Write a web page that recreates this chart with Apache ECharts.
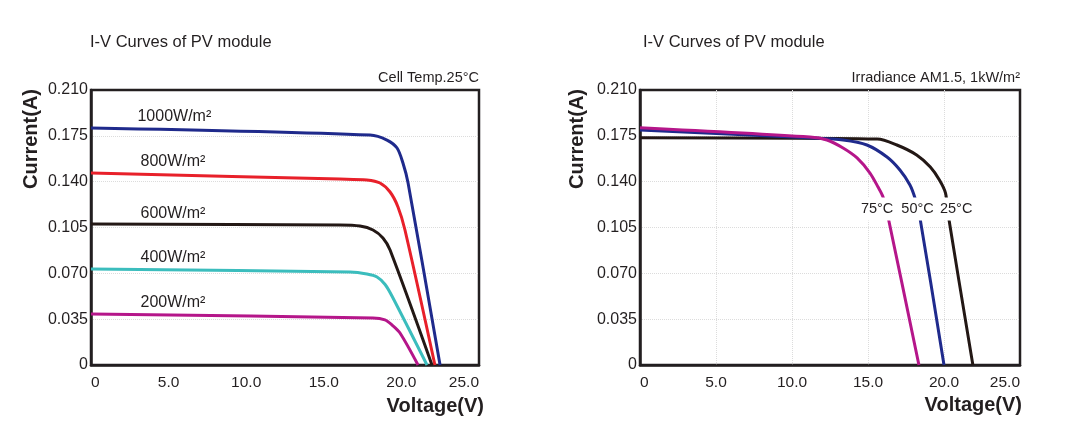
<!DOCTYPE html>
<html>
<head>
<meta charset="utf-8">
<title>I-V Curves of PV module</title>
<script src="https://cdn.jsdelivr.net/npm/echarts@6/dist/echarts.min.js"></script>
<style>
  html, body { margin: 0; padding: 0; background: #fff; }
  #chart { width: 1072px; height: 437px; }
</style>
</head>
<body>
<div id="chart"></div>
<script>
// axis ticks
var voltTicks = [0, 5, 10, 15, 20, 25];
var currTicks = [0, 0.035, 0.07, 0.105, 0.14, 0.175, 0.21];

// left chart: irradiance curves at cell temp 25°C  (voltage V, current A)
var irrNames = ['1000W/m²', '800W/m²', '600W/m²', '400W/m²', '200W/m²'];
var v1000 = [0, 17.98, 19.07, 19.72, 20.10, 20.43, 22.49];
var i1000 = [0.181, 0.1756, 0.1718, 0.1657, 0.1542, 0.139, 0];
var v800 = [0, 16.04, 17.78, 18.62, 19.27, 19.78, 20.23, 22.16];
var i800 = [0.1466, 0.142, 0.1413, 0.139, 0.1321, 0.1207, 0.1031, 0];
var v600 = [0, 16.04, 17.33, 18.17, 18.81, 19.27, 21.97];
var i600 = [0.1077, 0.1069, 0.1061, 0.1031, 0.097, 0.0878, 0];
var v400 = [0, 16.69, 17.78, 18.43, 18.95, 19.4, 21.65];
var i400 = [0.0733, 0.071, 0.0695, 0.0672, 0.0615, 0.0525, 0];
var v200 = [0, 18.17, 18.94, 19.4, 19.91, 21.07];
var i200 = [0.0389, 0.0359, 0.0344, 0.0305, 0.0244, 0];
// where the irradiance names sit (voltage, current)
var irrTagAt = [[2.96, 0.190], [3.16, 0.155], [3.16, 0.116], [3.16, 0.0817], [3.16, 0.0473]];

// right chart: temperature curves at AM1.5, 1kW/m²
var tempNames = ['25°C', '50°C', '75°C'];
var v25 = [0, 15.6, 16.9, 18.2, 19.1, 19.7, 20.1, 20.3, 21.9];
var i25 = [0.1736, 0.1726, 0.168, 0.1604, 0.1512, 0.1413, 0.1313, 0.113, 0];
var v50 = [0, 11.4, 13.36, 14.93, 16.25, 17.1, 17.76, 18.09, 18.42, 20.0];
var i50 = [0.1794, 0.1733, 0.1718, 0.168, 0.1588, 0.1489, 0.1375, 0.1275, 0.1122, 0];
var v75 = [0, 11.18, 12.3, 13.36, 14.28, 15.13, 15.66, 15.99, 16.32, 18.35];
var i75 = [0.1812, 0.1741, 0.1718, 0.1657, 0.1581, 0.1466, 0.1359, 0.1283, 0.113, 0];
var tempTagAt = [[20.8, 0.1191], [18.26, 0.1191], [15.6, 0.1191]];

var FONT = '"Liberation Sans", Arial, Helvetica, sans-serif';
var INK = '#231f20';

function pairs(vs, is) {
  var out = [];
  for (var k = 0; k < vs.length; k++) out.push([vs[k], is[k]]);
  return out;
}

function curve(name, vs, is, color, axis, tagAt, boxed) {
  return {
    name: name,
    type: 'line',
    xAxisIndex: axis,
    yAxisIndex: axis,
    data: pairs(vs, is),
    smooth: 0.3,
    symbol: 'none',
    lineStyle: { color: color, width: 3 },
    itemStyle: { color: color },
    silent: true,
    markPoint: {
      symbol: 'circle',
      symbolSize: 1,
      itemStyle: { color: 'rgba(0,0,0,0)' },
      silent: true,
      label: boxed ? {
        show: true, position: 'inside', formatter: name,
        fontFamily: FONT, fontSize: 14.5, color: INK,
        backgroundColor: '#fff', padding: [4, 1]
      } : {
        show: true, position: 'right', distance: 0, formatter: name,
        fontFamily: FONT, fontSize: 16, color: INK
      },
      data: [{ coord: tagAt }]
    }
  };
}

var xAxisBase = function (grid, grid2) {
  return {
    type: 'value', gridIndex: grid, min: 0, max: 25, interval: 5,
    axisLine: { show: true, onZero: false, lineStyle: { color: INK, width: 2.5 } },
    axisTick: { show: false },
    axisLabel: {
      margin: 10, fontFamily: FONT, fontSize: 15.5, color: INK,
      alignMinLabel: 'left', alignMaxLabel: 'right',
      formatter: function (v) { return v === 0 ? '0' : v.toFixed(1); }
    },
    splitLine: { show: grid2, showMinLine: false, showMaxLine: false,
      lineStyle: { color: '#dcdcdc', type: 'dotted', width: 1 } }
  };
};
var yAxisBase = function (grid) {
  return {
    type: 'value', gridIndex: grid, min: 0, max: 0.21, interval: 0.035,
    axisLine: { show: true, lineStyle: { color: INK, width: 2.5 } },
    axisTick: { show: false },
    axisLabel: {
      margin: 3, fontFamily: FONT, fontSize: 16, color: INK,
      formatter: function (v) { return v === 0 ? '0' : v.toFixed(3); }
    },
    splitLine: { show: true, showMinLine: false, showMaxLine: false,
      lineStyle: { color: '#dcdcdc', type: 'dotted', width: 1 } }
  };
};

var titleStyle = function (size) {
  return { fontSize: size, fontWeight: 'normal', color: INK, fontFamily: FONT };
};

var chart = echarts.init(document.getElementById('chart'));
chart.setOption({
  animation: false,
  backgroundColor: '#fff',
  textStyle: { fontFamily: FONT },
  title: [
    { text: 'I-V Curves of PV module', left: 90, top: 34, padding: 0, textStyle: titleStyle(16.5) },
    { text: 'Cell Temp.25°C', right: 593, top: 70, padding: 0, textStyle: titleStyle(14.5) },
    { text: 'I-V Curves of PV module', left: 643, top: 34, padding: 0, textStyle: titleStyle(16.5) },
    { text: 'Irradiance AM1.5, 1kW/m²', right: 52, top: 70, padding: 0, textStyle: titleStyle(14.5) }
  ],
  grid: [
    { left: 91, top: 90, width: 388, height: 275, show: true, borderColor: INK, borderWidth: 2.5, backgroundColor: '#fff' },
    { left: 640, top: 90, width: 380, height: 275, show: true, borderColor: INK, borderWidth: 2.5, backgroundColor: '#fff' }
  ],
  xAxis: [xAxisBase(0, false), xAxisBase(1, true)],
  yAxis: [yAxisBase(0), yAxisBase(1)],
  graphic: [
    { type: 'text', x: 31, y: 139, rotation: Math.PI / 2,
      style: { text: 'Current(A)', font: 'bold 20px ' + FONT, fill: INK, align: 'center', verticalAlign: 'middle' } },
    { type: 'text', x: 577, y: 139, rotation: Math.PI / 2,
      style: { text: 'Current(A)', font: 'bold 20px ' + FONT, fill: INK, align: 'center', verticalAlign: 'middle' } },
    { type: 'text', x: 484, y: 406,
      style: { text: 'Voltage(V)', font: 'bold 20px ' + FONT, fill: INK, align: 'right', verticalAlign: 'middle' } },
    { type: 'text', x: 1022, y: 405,
      style: { text: 'Voltage(V)', font: 'bold 20px ' + FONT, fill: INK, align: 'right', verticalAlign: 'middle' } }
  ],
  series: [
    curve(irrNames[0], v1000, i1000, '#1f2a8c', 0, irrTagAt[0], false),
    curve(irrNames[1], v800, i800, '#e8202a', 0, irrTagAt[1], false),
    curve(irrNames[2], v600, i600, '#231815', 0, irrTagAt[2], false),
    curve(irrNames[3], v400, i400, '#3bbdbd', 0, irrTagAt[3], false),
    curve(irrNames[4], v200, i200, '#b5168a', 0, irrTagAt[4], false),
    curve(tempNames[0], v25, i25, '#231815', 1, tempTagAt[0], true),
    curve(tempNames[1], v50, i50, '#1f2a8c', 1, tempTagAt[1], true),
    curve(tempNames[2], v75, i75, '#b5168a', 1, tempTagAt[2], true)
  ]
});
</script>
</body>
</html>
